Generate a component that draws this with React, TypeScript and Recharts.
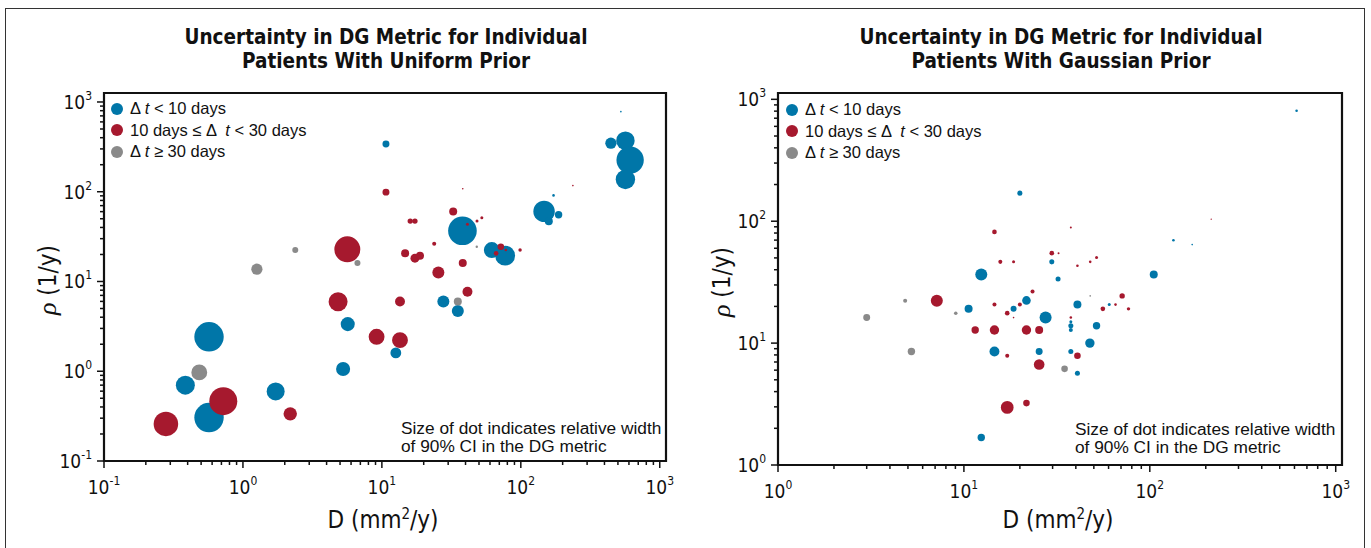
import React from "react";
import { ScatterChart, Scatter, XAxis, YAxis, ZAxis, ReferenceArea, Legend } from "recharts";

// d = D (mm^2/y), rho = proliferation (1/y), w = relative width of 90% CI
type Pt = { d: number; rho: number; w: number };

const uniformShort: Pt[] = [
  { d: 10.7, rho: 340, w: 0.054 },
  { d: 525, rho: 780, w: 0.003 },
  { d: 445, rho: 347, w: 0.14 },
  { d: 566, rho: 371, w: 0.38 },
  { d: 612, rho: 225, w: 0.83 },
  { d: 566, rho: 137, w: 0.42 },
  { d: 172, rho: 91, w: 0.0075 },
  { d: 147, rho: 60.4, w: 0.51 },
  { d: 187, rho: 55.5, w: 0.061 },
  { d: 159, rho: 46.8, w: 0.071 },
  { d: 38.0, rho: 36.7, w: 0.91 },
  { d: 61.8, rho: 22.4, w: 0.28 },
  { d: 77.1, rho: 19.4, w: 0.44 },
  { d: 27.7, rho: 6.0, w: 0.16 },
  { d: 35.2, rho: 4.68, w: 0.16 },
  { d: 5.68, rho: 3.35, w: 0.22 },
  { d: 12.6, rho: 1.6, w: 0.13 },
  { d: 5.26, rho: 1.06, w: 0.22 },
  { d: 0.57, rho: 2.42, w: 0.96 },
  { d: 0.385, rho: 0.7, w: 0.4 },
  { d: 1.72, rho: 0.596, w: 0.36 },
  { d: 0.57, rho: 0.305, w: 0.96 },
];

const uniformMid: Pt[] = [
  { d: 10.7, rho: 99, w: 0.054 },
  { d: 237, rho: 117, w: 0.003 },
  { d: 38.2, rho: 108, w: 0.003 },
  { d: 32.6, rho: 60.4, w: 0.071 },
  { d: 52.4, rho: 51.3, w: 0.01 },
  { d: 48.4, rho: 47.1, w: 0.01 },
  { d: 41.3, rho: 43.4, w: 0.01 },
  { d: 16.0, rho: 47.1, w: 0.032 },
  { d: 17.3, rho: 47.1, w: 0.032 },
  { d: 23.8, rho: 26.3, w: 0.018 },
  { d: 14.7, rho: 20.6, w: 0.071 },
  { d: 17.3, rho: 18.2, w: 0.09 },
  { d: 18.8, rho: 19.4, w: 0.071 },
  { d: 5.64, rho: 22.8, w: 0.75 },
  { d: 71.8, rho: 24.4, w: 0.048 },
  { d: 66.4, rho: 20.6, w: 0.024 },
  { d: 78.0, rho: 22.4, w: 0.0075 },
  { d: 98.8, rho: 22.4, w: 0.013 },
  { d: 25.5, rho: 12.6, w: 0.16 },
  { d: 38.2, rho: 16.1, w: 0.071 },
  { d: 41.3, rho: 7.67, w: 0.11 },
  { d: 13.5, rho: 6.0, w: 0.11 },
  { d: 4.84, rho: 5.94, w: 0.4 },
  { d: 9.16, rho: 2.42, w: 0.28 },
  { d: 13.5, rho: 2.22, w: 0.28 },
  { d: 0.722, rho: 0.464, w: 0.87 },
  { d: 0.279, rho: 0.259, w: 0.67 },
  { d: 2.19, rho: 0.335, w: 0.2 },
];

const uniformLong: Pt[] = [
  { d: 2.38, rho: 22.4, w: 0.04 },
  { d: 1.26, rho: 13.7, w: 0.14 },
  { d: 6.67, rho: 16.1, w: 0.04 },
  { d: 48.2, rho: 24.4, w: 0.0064 },
  { d: 35.2, rho: 6.0, w: 0.071 },
  { d: 0.485, rho: 0.97, w: 0.28 },
];

const gaussianShort: Pt[] = [
  { d: 616, rho: 807, w: 0.0075 },
  { d: 20.0, rho: 170, w: 0.028 },
  { d: 134, rho: 69.8, w: 0.0075 },
  { d: 169, rho: 64.3, w: 0.003 },
  { d: 29.7, rho: 46.4, w: 0.028 },
  { d: 12.4, rho: 36.5, w: 0.16 },
  { d: 32.1, rho: 33.6, w: 0.028 },
  { d: 105, rho: 36.5, w: 0.071 },
  { d: 21.7, rho: 22.4, w: 0.082 },
  { d: 40.8, rho: 20.7, w: 0.071 },
  { d: 60.5, rho: 20.7, w: 0.01 },
  { d: 10.6, rho: 19.1, w: 0.071 },
  { d: 18.5, rho: 19.1, w: 0.04 },
  { d: 27.5, rho: 16.2, w: 0.16 },
  { d: 37.6, rho: 15.0, w: 0.01 },
  { d: 37.6, rho: 13.9, w: 0.028 },
  { d: 37.6, rho: 12.8, w: 0.018 },
  { d: 51.7, rho: 13.9, w: 0.061 },
  { d: 47.6, rho: 10.0, w: 0.098 },
  { d: 14.6, rho: 8.53, w: 0.11 },
  { d: 25.4, rho: 8.53, w: 0.054 },
  { d: 37.6, rho: 8.53, w: 0.028 },
  { d: 40.8, rho: 5.67, w: 0.028 },
  { d: 12.4, rho: 1.68, w: 0.061 },
];

const gaussianMid: Pt[] = [
  { d: 14.6, rho: 81.7, w: 0.024 },
  { d: 29.7, rho: 54.7, w: 0.024 },
  { d: 32.3, rho: 54.7, w: 0.0044 },
  { d: 37.6, rho: 88.7, w: 0.0044 },
  { d: 214, rho: 104, w: 0.0022 },
  { d: 51.7, rho: 50.5, w: 0.01 },
  { d: 15.7, rho: 46.4, w: 0.018 },
  { d: 18.5, rho: 46.4, w: 0.01 },
  { d: 40.8, rho: 43.1, w: 0.0075 },
  { d: 47.8, rho: 46.4, w: 0.0075 },
  { d: 23.4, rho: 26.5, w: 0.018 },
  { d: 7.15, rho: 22.3, w: 0.16 },
  { d: 14.6, rho: 20.7, w: 0.018 },
  { d: 20.0, rho: 20.7, w: 0.018 },
  { d: 71.0, rho: 24.4, w: 0.032 },
  { d: 65.4, rho: 20.7, w: 0.0075 },
  { d: 17.1, rho: 17.6, w: 0.024 },
  { d: 18.5, rho: 16.2, w: 0.003 },
  { d: 55.9, rho: 19.1, w: 0.024 },
  { d: 76.8, rho: 19.1, w: 0.013 },
  { d: 37.6, rho: 16.2, w: 0.0075 },
  { d: 11.5, rho: 12.8, w: 0.061 },
  { d: 14.6, rho: 12.8, w: 0.098 },
  { d: 21.7, rho: 12.8, w: 0.098 },
  { d: 25.4, rho: 12.8, w: 0.071 },
  { d: 17.1, rho: 7.87, w: 0.018 },
  { d: 40.8, rho: 7.87, w: 0.048 },
  { d: 25.4, rho: 6.68, w: 0.125 },
  { d: 17.1, rho: 2.97, w: 0.18 },
  { d: 21.7, rho: 3.22, w: 0.048 },
];

const gaussianLong: Pt[] = [
  { d: 4.83, rho: 22.3, w: 0.018 },
  { d: 3.0, rho: 16.2, w: 0.054 },
  { d: 9.04, rho: 17.6, w: 0.014 },
  { d: 5.22, rho: 8.53, w: 0.061 },
  { d: 34.8, rho: 6.15, w: 0.048 },
  { d: 47.8, rho: 24.4, w: 0.003 },
];

const seriesNames = ["Δ t < 10 days", "10 days ≤ Δ  t < 30 days", "Δ t ≥ 30 days"];
const uniformDecades = [0.1, 1, 10, 100, 1000];
const gaussianDecades = [1, 10, 100, 1000];
const titles = [
  ["Uncertainty in DG Metric for Individual", "Patients With Uniform Prior"],
  ["Uncertainty in DG Metric for Individual", "Patients With Gaussian Prior"],
];
const noteLines = ["Size of dot indicates relative width", "of 90% CI in the DG metric"];

const BLUE = "#0076a8";
const RED = "#a6192e";
const GRAY = "#8a8a8a";
const INK = "#111";
const NARROW = "'Liberation Sans Narrow', 'Arial Narrow', 'DejaVu Sans Condensed', sans-serif";
const SANS = "'Liberation Sans', Arial, sans-serif";

// majors plus 2..9 minors for a log axis
const logTicks = (decades: number[]) => {
  const out: number[] = [];
  decades.forEach((d, i) => {
    out.push(d);
    if (i < decades.length - 1) for (let m = 2; m <= 9; m++) out.push(+(d * m).toPrecision(3));
  });
  return out;
};

const isMajor = (v: number) => {
  const l = Math.log10(v);
  return Math.abs(l - Math.round(l)) < 1e-6;
};

const XTick = (props: any) => {
  const { x, y, payload } = props;
  const major = isMajor(payload.value);
  return (
    <g>
      <line x1={x} x2={x} y1={y} y2={y + (major ? 7 : 4)} stroke={INK} strokeWidth={1.5} />
      {major && (
        <text x={x} y={y + 33} textAnchor="middle" fontFamily={NARROW} fontSize={19} fill={INK}>
          10
          <tspan dy={-9} fontSize={12}>
            {Math.round(Math.log10(payload.value))}
          </tspan>
        </text>
      )}
    </g>
  );
};

const YTick = (props: any) => {
  const { x, y, payload } = props;
  const major = isMajor(payload.value);
  return (
    <g>
      <line x1={x} x2={x - (major ? 7 : 4)} y1={y} y2={y} stroke={INK} strokeWidth={1.5} />
      {major && (
        <text x={x - 12} y={y + 7} textAnchor="end" fontFamily={NARROW} fontSize={19} fill={INK}>
          10
          <tspan dy={-9} fontSize={12}>
            {Math.round(Math.log10(payload.value))}
          </tspan>
        </text>
      )}
    </g>
  );
};

const LegendContent = ({ payload }: any) => {
  const items = [...(payload ?? [])].sort(
    (a: any, b: any) => seriesNames.indexOf(a.value) - seriesNames.indexOf(b.value)
  );
  return (
    <div style={{ fontFamily: SANS, fontSize: 16.5, color: INK, lineHeight: "21.5px" }}>
      {items.map((item: any) => {
        const [pre, post] = String(item.value).split("t");
        return (
          <div key={item.value} style={{ display: "flex", alignItems: "center", whiteSpace: "pre" }}>
            <span
              style={{
                display: "inline-block",
                width: 12,
                height: 12,
                borderRadius: "50%",
                background: item.color,
                marginRight: 7,
              }}
            />
            <span>
              {pre}
              <i>t</i>
              {post}
            </span>
          </div>
        );
      })}
    </div>
  );
};

interface PanelProps {
  left: number;
  width: number;
  margin: { top: number; right: number; bottom: number; left: number };
  xDomain: [number, number];
  yDomain: [number, number];
  xDecades: number[];
  yDecades: number[];
  short: Pt[];
  mid: Pt[];
  long: Pt[];
  legendPos: { left: number; top: number };
}

function Panel({ left, width, margin, xDomain, yDomain, xDecades, yDecades, short, mid, long, legendPos }: PanelProps) {
  return (
    <div style={{ position: "absolute", left, top: 0 }}>
      <ScatterChart width={width} height={548} margin={margin}>
        <XAxis
          type="number"
          dataKey="d"
          scale="log"
          domain={xDomain}
          allowDataOverflow
          ticks={logTicks(xDecades)}
          interval={0}
          tick={<XTick />}
          tickSize={0}
          tickMargin={0}
          tickLine={false}
          axisLine={false}
          height={30}
        />
        <YAxis
          type="number"
          dataKey="rho"
          scale="log"
          domain={yDomain}
          allowDataOverflow
          ticks={logTicks(yDecades)}
          interval={0}
          tick={<YTick />}
          tickSize={0}
          tickMargin={0}
          tickLine={false}
          axisLine={false}
          width={60}
        />
        <ZAxis type="number" dataKey="w" domain={[0, 1]} range={[0, 707]} />
        <ReferenceArea
          x1={xDomain[0]}
          x2={xDomain[1]}
          y1={yDomain[0]}
          y2={yDomain[1]}
          fill="none"
          stroke={INK}
          strokeWidth={2.2}
          fillOpacity={0}
        />
        <Scatter name={seriesNames[0]} data={short} fill={BLUE} isAnimationActive={false} />
        <Scatter name={seriesNames[1]} data={mid} fill={RED} isAnimationActive={false} />
        <Scatter name={seriesNames[2]} data={long} fill={GRAY} isAnimationActive={false} />
        <Legend
          layout="horizontal"
          verticalAlign="middle"
          align="center"
          content={<LegendContent />}
          wrapperStyle={{ left: legendPos.left, top: legendPos.top, width: 280, height: 70 }}
        />
      </ScatterChart>
    </div>
  );
}

const Title = ({ lines, cx }: { lines: string[]; cx: number }) => (
  <div
    style={{
      position: "absolute",
      left: cx - 250,
      top: 25,
      width: 500,
      textAlign: "center",
      fontFamily: NARROW,
      fontWeight: "bold",
      fontSize: 20.5,
      lineHeight: "24px",
      color: INK,
    }}
  >
    {lines.map((l) => (
      <div key={l}>{l}</div>
    ))}
  </div>
);

const Note = ({ left, top }: { left: number; top: number }) => (
  <div style={{ position: "absolute", left, top, fontFamily: SANS, fontSize: 17.3, lineHeight: "18px", color: INK, whiteSpace: "nowrap" }}>
    {noteLines.map((l) => (
      <div key={l}>{l}</div>
    ))}
  </div>
);

const XTitle = ({ cx }: { cx: number }) => (
  <div
    style={{
      position: "absolute",
      left: cx - 100,
      top: 505,
      width: 200,
      textAlign: "center",
      fontFamily: NARROW,
      fontSize: 24,
      color: INK,
    }}
  >
    D (mm<sup style={{ fontSize: 15 }}>2</sup>/y)
  </div>
);

const YTitle = ({ cx, cy }: { cx: number; cy: number }) => (
  <div
    style={{
      position: "absolute",
      left: cx - 60,
      top: cy - 15,
      width: 120,
      height: 30,
      textAlign: "center",
      transform: "rotate(-90deg)",
      fontFamily: NARROW,
      fontSize: 24,
      lineHeight: "30px",
      color: INK,
    }}
  >
    <i style={{ fontFamily: "'Liberation Serif', serif", fontSize: 26 }}>ρ</i> (1/y)
  </div>
);

export default function App() {
  return (
    <div style={{ position: "absolute", left: 0, top: 0, width: 1371, height: 548, background: "#fff", overflow: "hidden" }}>
      <div style={{ position: "absolute", left: 5, top: 8, width: 1358, height: 600, border: "1.5px solid #333" }} />
      <Title lines={titles[0]} cx={386} />
      <Title lines={titles[1]} cx={1061} />
      <Panel
        left={0}
        width={690}
        margin={{ top: 93, right: 24, bottom: 57, left: 44 }}
        xDomain={[0.1, 1109]}
        yDomain={[0.1, 1259]}
        xDecades={uniformDecades}
        yDecades={uniformDecades}
        short={uniformShort}
        mid={uniformMid}
        long={uniformLong}
        legendPos={{ left: 111, top: 98 }}
      />
      <Panel
        left={690}
        width={681}
        margin={{ top: 93, right: 29, bottom: 53, left: 28 }}
        xDomain={[1, 1081]}
        yDomain={[1, 1127]}
        xDecades={gaussianDecades}
        yDecades={gaussianDecades}
        short={gaussianShort}
        mid={gaussianMid}
        long={gaussianLong}
        legendPos={{ left: 96, top: 99 }}
      />
      <Note left={401} top={419} />
      <Note left={1075} top={420} />
      <XTitle cx={383} />
      <XTitle cx={1058} />
      <YTitle cx={48} cy={280} />
      <YTitle cx={722} cy={282} />
    </div>
  );
}
